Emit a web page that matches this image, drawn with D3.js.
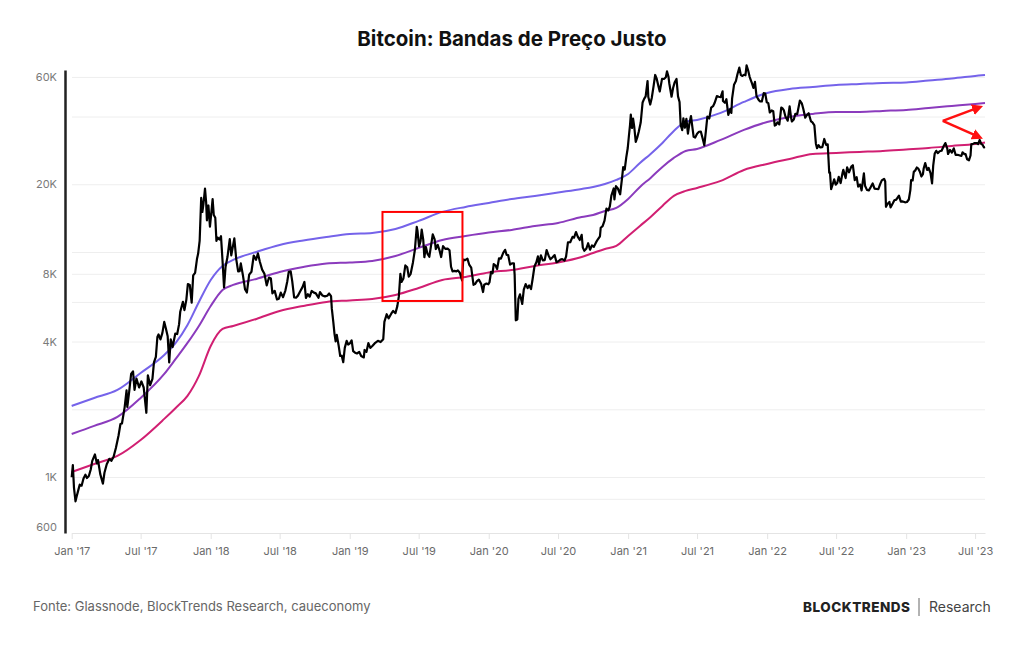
<!DOCTYPE html>
<html><head><meta charset="utf-8">
<script src="https://cdn.jsdelivr.net/npm/d3@7"></script>
<style>
body{margin:0;background:#fff;}
svg{display:block;font-family:Inter,"Noto Sans",sans-serif;}
</style>
</head><body>
<svg id="chart" width="1024" height="645"></svg>
<script>
const chartTitle = "Bitcoin: Bandas de Preço Justo";
const sourceText = "Fonte: Glassnode, BlockTrends Research, caueconomy";

const bandDates = ["2017-01-01","2017-03-01","2017-05-01","2017-07-01","2017-09-01","2017-10-01","2017-11-01","2017-12-01",
"2018-01-01","2018-02-01","2018-03-01","2018-05-01","2018-07-01","2018-09-01","2018-11-01",
"2019-01-01","2019-03-01","2019-05-01","2019-07-01","2019-09-01","2019-11-01",
"2020-01-01","2020-03-01","2020-05-01","2020-07-01","2020-09-01","2020-10-01","2020-11-01","2020-12-01",
"2021-01-01","2021-02-01","2021-03-01","2021-04-01","2021-05-01","2021-06-01","2021-07-01","2021-09-01","2021-11-01",
"2022-01-01","2022-03-01","2022-05-01","2022-07-01","2022-09-01","2022-11-01",
"2023-01-01","2023-03-01","2023-05-01","2023-07-01","2023-07-27"];
const bandLow = [1053,1143,1241,1461,1813,2028,2293,2814,3824,4552,4693,5042,5473,5759,6000,6093,6187,6446,6925,7514,7749,8114,8324,8673,8990,9510,9906,10320,10645,11790,13060,14320,16030,17760,18690,19270,20700,23160,24630,25920,27290,27560,27850,28130,28570,29010,29610,30220,30690];
const bandMid = [1554,1687,1849,2246,2872,3348,3944,4693,5759,6784,7140,7592,8156,8584,8898,8990,9129,9607,10428,11316,11790,12218,12538,13060,13470,14320,14614,15224,15699,17215,19470,21350,23890,26200,28130,28720,31500,34880,37860,39850,41090,41940,41940,42370,42800,43690,44600,45520,45980];
const bandHigh = [2070,2246,2438,2901,3488,3944,4741,6000,7514,8673,9222,10009,10752,11258,11668,12033,12157,12664,13747,15073,15863,16525,17215,17760,18400,19070,19470,20070,20910,22230,24880,27290,30530,34530,37860,38640,41510,46450,50930,53050,54150,55270,55840,56410,56700,57880,59080,60610,61230];

const btcPrice = [
["2017-01-01",998],["2017-01-04",1130],["2017-01-07",895],["2017-01-11",780],["2017-01-14",820],["2017-01-18",870],["2017-01-22",925],["2017-01-27",915],["2017-02-01",985],["2017-02-06",1025],["2017-02-10",990],["2017-02-15",1010],["2017-02-20",1080],["2017-02-24",1180],["2017-03-03",1260],["2017-03-08",1150],["2017-03-11",1190],["2017-03-17",1030],["2017-03-24",935],["2017-03-28",1045],["2017-04-03",1140],["2017-04-10",1205],["2017-04-15",1180],["2017-04-21",1230],["2017-04-27",1345],["2017-05-04",1530],["2017-05-09",1720],["2017-05-13",1730],["2017-05-20",2040],["2017-05-25",2430],["2017-05-27",2050],["2017-06-01",2400],["2017-06-06",2870],["2017-06-11",2950],["2017-06-15",2440],["2017-06-20",2740],["2017-06-27",2500],["2017-07-03",2660],["2017-07-09",2500],["2017-07-16",1930],["2017-07-20",2830],["2017-07-26",2560],["2017-08-01",2730],["2017-08-05",3230],["2017-08-10",3420],["2017-08-14",4190],["2017-08-17",4300],["2017-08-22",4090],["2017-08-27",4360],["2017-09-01",4890],["2017-09-05",4600],["2017-09-10",4220],["2017-09-14",3230],["2017-09-18",4090],["2017-09-23",3780],["2017-09-30",4340],["2017-10-05",4320],["2017-10-10",4780],["2017-10-13",5430],["2017-10-20",6010],["2017-10-24",5520],["2017-10-29",6130],["2017-11-02",7210],["2017-11-07",7140],["2017-11-12",5950],["2017-11-16",7870],["2017-11-21",8080],["2017-11-26",9330],["2017-11-29",9840],["2017-12-03",11250],["2017-12-07",17390],["2017-12-10",15060],["2017-12-13",16390],["2017-12-17",19140],["2017-12-20",16620],["2017-12-22",13830],["2017-12-26",16100],["2017-12-30",12950],
["2018-01-03",15200],["2018-01-06",17170],["2018-01-09",14600],["2018-01-13",14200],["2018-01-16",11200],["2018-01-19",11600],["2018-01-24",11360],["2018-01-28",11750],["2018-02-01",9170],["2018-02-05",6960],["2018-02-09",8600],["2018-02-14",9500],["2018-02-20",11400],["2018-02-24",9660],["2018-03-04",11500],["2018-03-09",9300],["2018-03-14",8200],["2018-03-18",8220],["2018-03-21",8900],["2018-03-27",7800],["2018-04-01",6840],["2018-04-06",6610],["2018-04-12",7930],["2018-04-18",8170],["2018-04-24",9650],["2018-04-30",9240],["2018-05-05",9860],["2018-05-10",9050],["2018-05-16",8350],["2018-05-22",8000],["2018-05-28",7110],["2018-06-03",7700],["2018-06-08",7620],["2018-06-12",6550],["2018-06-18",6720],["2018-06-24",6160],["2018-06-29",6200],["2018-07-04",6600],["2018-07-10",6300],["2018-07-16",6740],["2018-07-21",7400],["2018-07-25",8170],["2018-07-30",8200],["2018-08-03",7420],["2018-08-08",6280],["2018-08-13",6270],["2018-08-18",6400],["2018-08-24",6690],["2018-08-30",6980],["2018-09-04",7360],["2018-09-08",6250],["2018-09-13",6490],["2018-09-18",6330],["2018-09-23",6710],["2018-09-29",6600],["2018-10-04",6550],["2018-10-11",6260],["2018-10-15",6640],["2018-10-21",6410],["2018-10-28",6350],["2018-11-03",6390],["2018-11-08",6540],["2018-11-13",6360],["2018-11-15",5600],["2018-11-19",4870],["2018-11-22",4330],["2018-11-25",4010],["2018-11-28",4280],["2018-12-03",3830],["2018-12-07",3450],["2018-12-11",3460],["2018-12-15",3240],["2018-12-19",3750],["2018-12-24",4030],["2018-12-28",3880],
["2019-01-02",3940],["2019-01-06",4050],["2019-01-10",3630],["2019-01-15",3570],["2019-01-20",3540],["2019-01-26",3600],["2019-01-31",3450],["2019-02-07",3400],["2019-02-09",3670],["2019-02-14",3600],["2019-02-19",3940],["2019-02-24",3750],["2019-03-02",3830],["2019-03-09",3950],["2019-03-16",4030],["2019-03-23",3980],["2019-03-30",4100],["2019-04-02",4890],["2019-04-08",5290],["2019-04-13",5070],["2019-04-20",5320],["2019-04-25",5470],["2019-05-01",5350],["2019-05-06",5750],["2019-05-10",6350],["2019-05-14",7990],["2019-05-17",7360],["2019-05-22",7630],["2019-05-27",8720],["2019-06-01",8550],["2019-06-05",7780],["2019-06-10",8000],["2019-06-16",8990],["2019-06-21",10210],["2019-06-26",12930],["2019-06-28",12400],["2019-07-02",10590],["2019-07-06",11210],["2019-07-09",12580],["2019-07-13",11350],["2019-07-16",9480],["2019-07-20",10530],["2019-07-24",9840],["2019-07-29",9530],["2019-08-03",10820],["2019-08-07",11970],["2019-08-12",11380],["2019-08-15",10310],["2019-08-20",10760],["2019-08-25",10140],["2019-08-29",9500],["2019-09-03",10620],["2019-09-09",10330],["2019-09-15",10360],["2019-09-20",10180],["2019-09-24",8600],["2019-09-28",8200],["2019-10-03",8240],["2019-10-08",8200],["2019-10-12",8290],["2019-10-17",8090],["2019-10-23",7470],["2019-10-26",9260],["2019-10-31",9200],["2019-11-06",9340],["2019-11-11",8760],["2019-11-16",8520],["2019-11-22",7150],["2019-11-26",7200],["2019-12-01",7420],["2019-12-06",7540],["2019-12-12",7220],["2019-12-17",6640],["2019-12-20",7150],["2019-12-26",7240],["2019-12-31",7190],
["2020-01-03",7340],["2020-01-07",8160],["2020-01-11",8040],["2020-01-14",8840],["2020-01-19",8700],["2020-01-23",8400],["2020-01-28",9380],["2020-02-02",9340],["2020-02-08",9910],["2020-02-13",10230],["2020-02-17",9700],["2020-02-21",9700],["2020-02-26",8790],["2020-03-02",8900],["2020-03-07",8900],["2020-03-09",7940],["2020-03-12",4970],["2020-03-16",5010],["2020-03-19",6190],["2020-03-23",6490],["2020-03-29",5880],["2020-04-02",6800],["2020-04-07",7200],["2020-04-12",6910],["2020-04-16",7100],["2020-04-21",6850],["2020-04-25",7550],["2020-04-30",8620],["2020-05-05",9000],["2020-05-09",9560],["2020-05-12",8820],["2020-05-17",9670],["2020-05-22",9170],["2020-05-27",9200],["2020-06-01",10200],["2020-06-06",9660],["2020-06-11",9280],["2020-06-16",9450],["2020-06-22",9690],["2020-06-27",9010],["2020-07-02",9100],["2020-07-07",9250],["2020-07-12",9300],["2020-07-18",9170],["2020-07-22",9540],["2020-07-27",11030],["2020-08-02",11050],["2020-08-08",11680],["2020-08-12",11580],["2020-08-17",12270],["2020-08-22",11680],["2020-08-27",11310],["2020-09-01",11920],["2020-09-04",10460],["2020-09-08",10130],["2020-09-13",10330],["2020-09-18",10940],["2020-09-23",10240],["2020-09-28",10700],["2020-10-03",10550],["2020-10-09",11060],["2020-10-14",11420],["2020-10-19",11750],["2020-10-21",12820],["2020-10-26",13030],["2020-10-31",13780],["2020-11-05",15590],["2020-11-10",15300],["2020-11-14",15960],["2020-11-18",17800],["2020-11-24",19160],["2020-11-26",17150],["2020-11-30",19620],["2020-12-05",19150],["2020-12-11",18050],["2020-12-16",21310],["2020-12-19",23860],["2020-12-23",23240],["2020-12-27",26270],["2020-12-31",28990],
["2021-01-03",32780],["2021-01-06",36770],["2021-01-08",40800],["2021-01-11",35570],["2021-01-14",39190],["2021-01-17",36070],["2021-01-21",30830],["2021-01-25",32290],["2021-01-29",34320],["2021-02-03",37620],["2021-02-08",46200],["2021-02-12",47900],["2021-02-16",49140],["2021-02-21",57540],["2021-02-23",48820],["2021-02-28",45240],["2021-03-04",48370],["2021-03-09",54870],["2021-03-13",61200],["2021-03-17",58900],["2021-03-22",54100],["2021-03-25",51700],["2021-03-31",58800],["2021-04-05",58730],["2021-04-10",59800],["2021-04-13",63500],["2021-04-17",60050],["2021-04-19",56250],["2021-04-25",49000],["2021-04-29",53550],["2021-05-03",56620],["2021-05-08",58800],["2021-05-12",49150],["2021-05-16",46430],["2021-05-19",36700],["2021-05-23",34770],["2021-05-26",39290],["2021-05-30",35680],["2021-06-03",39100],["2021-06-07",33570],["2021-06-11",37340],["2021-06-15",40220],["2021-06-19",35500],["2021-06-22",32500],["2021-06-26",32240],["2021-07-01",33570],["2021-07-06",34240],["2021-07-11",34260],["2021-07-16",31780],["2021-07-20",29800],["2021-07-24",34280],["2021-07-28",39990],["2021-08-02",39200],["2021-08-07",43800],["2021-08-12",44450],["2021-08-16",45900],["2021-08-22",49270],["2021-08-27",49000],["2021-09-01",48800],["2021-09-06",51750],["2021-09-07",46900],["2021-09-12",46050],["2021-09-16",47740],["2021-09-21",40700],["2021-09-26",43200],["2021-09-29",41500],["2021-10-01",48200],["2021-10-06",55360],["2021-10-11",57480],["2021-10-15",61670],["2021-10-20",66000],["2021-10-24",61100],["2021-10-28",60600],["2021-11-01",61300],["2021-11-05",61000],["2021-11-08",67550],["2021-11-12",64160],["2021-11-16",60060],["2021-11-19",58100],["2021-11-22",56290],["2021-11-26",53570],["2021-11-30",57000],["2021-12-04",49400],["2021-12-09",47590],["2021-12-13",46700],["2021-12-18",46700],["2021-12-23",50810],["2021-12-27",50640],["2021-12-31",46300],
["2022-01-04",45900],["2022-01-08",41700],["2022-01-13",42600],["2022-01-17",42250],["2022-01-21",36460],["2022-01-24",36650],["2022-01-28",37700],["2022-02-02",36900],["2022-02-07",43840],["2022-02-10",43570],["2022-02-14",42590],["2022-02-18",40000],["2022-02-24",38330],["2022-03-01",44420],["2022-03-05",39400],["2022-03-07",38060],["2022-03-12",38800],["2022-03-16",41120],["2022-03-21",41030],["2022-03-28",47130],["2022-04-02",45810],["2022-04-06",43200],["2022-04-11",39520],["2022-04-15",40550],["2022-04-20",41370],["2022-04-26",38120],["2022-04-30",37710],["2022-05-05",36570],["2022-05-09",30300],["2022-05-12",28940],["2022-05-16",29860],["2022-05-20",29200],["2022-05-26",29270],["2022-05-31",31790],["2022-06-05",29900],["2022-06-09",30110],["2022-06-13",22490],["2022-06-15",22580],["2022-06-18",19020],["2022-06-22",19960],["2022-06-26",21030],["2022-06-30",19930],["2022-07-04",20250],["2022-07-08",21600],["2022-07-13",20250],["2022-07-18",22520],["2022-07-20",23180],["2022-07-26",21310],["2022-07-30",23790],["2022-08-04",22610],["2022-08-10",23960],["2022-08-14",24310],["2022-08-19",20860],["2022-08-24",21530],["2022-08-28",19540],["2022-09-02",19960],["2022-09-06",18790],["2022-09-12",22370],["2022-09-15",19700],["2022-09-20",18880],["2022-09-25",18800],["2022-09-30",19430],["2022-10-05",20160],["2022-10-10",19130],["2022-10-15",19070],["2022-10-20",19040],["2022-10-25",20090],["2022-10-29",20810],["2022-11-04",21150],["2022-11-07",20590],["2022-11-09",15880],["2022-11-13",16330],["2022-11-18",16700],["2022-11-21",15790],["2022-11-27",16460],["2022-12-01",16970],["2022-12-06",17090],["2022-12-13",17800],["2022-12-18",16740],["2022-12-23",16780],["2022-12-29",16630],
["2023-01-03",16680],["2023-01-08",17120],["2023-01-12",18850],["2023-01-14",20880],["2023-01-18",20800],["2023-01-21",22710],["2023-01-25",23060],["2023-01-29",23740],["2023-02-02",23470],["2023-02-06",22760],["2023-02-10",21650],["2023-02-14",22200],["2023-02-16",23520],["2023-02-20",24830],["2023-02-25",23150],["2023-03-01",23650],["2023-03-06",22430],["2023-03-10",20190],["2023-03-13",24200],["2023-03-17",27420],["2023-03-21",28170],["2023-03-25",27490],["2023-03-30",28030],["2023-04-04",28170],["2023-04-10",29650],["2023-04-14",30490],["2023-04-19",28820],["2023-04-21",27270],["2023-04-26",28420],["2023-05-01",27640],["2023-05-06",28890],["2023-05-11",26990],["2023-05-16",27040],["2023-05-22",26850],["2023-05-26",26720],["2023-05-29",27740],["2023-06-03",27220],["2023-06-06",27230],["2023-06-10",25850],["2023-06-15",25580],["2023-06-19",26840],["2023-06-21",30080],["2023-06-26",30270],["2023-06-30",30480],["2023-07-05",30510],["2023-07-09",30170],["2023-07-13",31470],["2023-07-17",30240],["2023-07-21",29900],["2023-07-24",29180],["2023-07-27",29320]
];

const yTickValues = [600, 800, 1000, 2000, 4000, 6000, 8000, 10000, 20000, 40000, 60000];
const yTickLabels = ["600", "", "1K", "", "4K", "", "8K", "", "20K", "", "60K"];
const gridValues = [800, 1000, 2000, 4000, 6000, 8000, 10000, 20000, 40000, 60000];
const xTickDates = ["2017-01-01","2017-07-01","2018-01-01","2018-07-01","2019-01-01","2019-07-01","2020-01-01","2020-07-01","2021-01-01","2021-07-01","2022-01-01","2022-07-01","2023-01-01","2023-07-01"];
const xTickLabels = ["Jan '17","Jul '17","Jan '18","Jul '18","Jan '19","Jul '19","Jan '20","Jul '20","Jan '21","Jul '21","Jan '22","Jul '22","Jan '23","Jul '23"];

const highlightDates = ["2019-03-28", "2019-10-24"];
const highlightValues = [6060, 15070];
const arrowOrigin = ["2023-04-07", 38240];
const arrowTargets = [["2023-07-11", 43910], ["2023-07-11", 32470]];

const parse = d3.utcParse("%Y-%m-%d");
const svg = d3.select("#chart");
svg.append("rect").attr("width", 1024).attr("height", 645).attr("fill", "#fff");

const x = d3.scaleUtc().domain([parse("2017-01-01"), parse("2023-07-27")]).range([71.7, 985]);
const y = d3.scaleLog().domain([564, 64400]).range([533, 70]);

// title
svg.append("text").attr("x", 512).attr("y", 46).attr("text-anchor", "middle")
  .attr("font-size", 20.5).attr("font-weight", 700).attr("fill", "#111").text(chartTitle);

// grid
const grid = svg.append("g").attr("transform", "translate(72,0)")
  .call(d3.axisRight(y).tickValues(gridValues).tickSize(913).tickFormat(""));
grid.select(".domain").remove();
grid.selectAll(".tick line").attr("stroke", "#eeeeee").attr("stroke-width", 1);

// x axis
const xa = svg.append("g").attr("transform", "translate(0,533)")
  .call(d3.axisBottom(x).tickValues(xTickDates.map(parse)).tickFormat((d, i) => xTickLabels[i]).tickSize(6).tickSizeOuter(0).tickPadding(8));
xa.select(".domain").attr("stroke", "#e4e4e4");
xa.selectAll(".tick line").attr("stroke", "#e4e4e4");
xa.selectAll(".tick text").attr("fill", "#6a6a6a").attr("font-size", 11).attr("font-family", "Inter, sans-serif");

// y axis
const ya = svg.append("g").attr("transform", "translate(65,0)")
  .call(d3.axisLeft(y).tickValues(yTickValues).tickFormat((d, i) => yTickLabels[i]).tickSize(0).tickSizeOuter(0).tickPadding(8));
ya.select(".domain").attr("stroke", "#222").attr("stroke-width", 2.5);
ya.selectAll(".tick text").attr("fill", "#7a7a7a").attr("font-size", 11).attr("font-family", "Inter, sans-serif");

// bands
const bandLine = d3.line().x(d => x(d[0])).y(d => y(d[1])).curve(d3.curveMonotoneX);
const bands = [
  {values: bandHigh, color: "#7563ea"},
  {values: bandMid, color: "#8b3bbd"},
  {values: bandLow, color: "#d11f72"}
];
bands.forEach(b => {
  const pts = bandDates.map((d, i) => [parse(d), b.values[i]]);
  svg.append("path").attr("d", bandLine(pts)).attr("fill", "none")
    .attr("stroke", b.color).attr("stroke-width", 2);
});

// price
const priceLine = d3.line().x(d => x(parse(d[0]))).y(d => y(d[1]));
svg.append("path").attr("d", priceLine(btcPrice)).attr("fill", "none")
  .attr("stroke", "#000").attr("stroke-width", 2.2).attr("stroke-linejoin", "round");

// highlight box
const bx0 = x(parse(highlightDates[0])), bx1 = x(parse(highlightDates[1]));
const by0 = y(highlightValues[1]), by1 = y(highlightValues[0]);
svg.append("rect").attr("x", bx0).attr("y", by0).attr("width", bx1 - bx0).attr("height", by1 - by0)
  .attr("fill", "none").attr("stroke", "#ff0000").attr("stroke-width", 2);

// arrows
const defs = svg.append("defs");
defs.append("marker").attr("id", "ah").attr("viewBox", "0 0 10 10").attr("refX", 6).attr("refY", 5)
  .attr("markerWidth", 4.4).attr("markerHeight", 4.4).attr("orient", "auto")
  .append("path").attr("d", "M0,0 L10,5 L0,10 z").attr("fill", "#ff1010");
arrowTargets.forEach(t => {
  svg.append("line")
    .attr("x1", x(parse(arrowOrigin[0]))).attr("y1", y(arrowOrigin[1]))
    .attr("x2", x(parse(t[0]))).attr("y2", y(t[1]))
    .attr("stroke", "#ff1010").attr("stroke-width", 2.5).attr("marker-end", "url(#ah)");
});

// footer
svg.append("text").attr("x", 33).attr("y", 611).attr("font-size", 13).attr("fill", "#666").text(sourceText);
svg.append("text").attr("x", 803).attr("y", 612).attr("font-size", 13.5).attr("font-weight", 800)
  .attr("fill", "#222").attr("letter-spacing", 0.5).text("BLOCKTRENDS");
svg.append("line").attr("x1", 919).attr("x2", 919).attr("y1", 598).attr("y2", 616).attr("stroke", "#666").attr("stroke-width", 1);
svg.append("text").attr("x", 929).attr("y", 612).attr("font-size", 14).attr("fill", "#444").text("Research");
</script>
</body></html>
